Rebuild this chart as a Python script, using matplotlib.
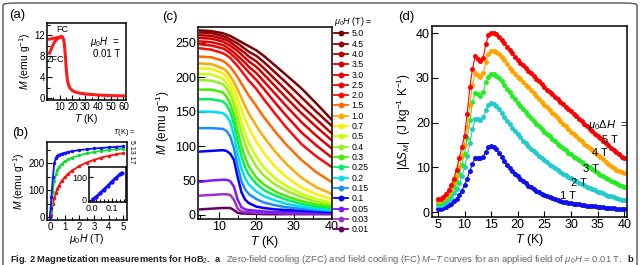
import numpy as np
import matplotlib
matplotlib.use('Agg')
import matplotlib.pyplot as plt
from matplotlib.patches import FancyBboxPatch
from matplotlib.lines import Line2D
from matplotlib.ticker import MultipleLocator

plt.rcParams['font.family'] = ['Liberation Sans', 'DejaVu Sans']
plt.rcParams['mathtext.fontset'] = 'custom'
plt.rcParams['mathtext.rm'] = 'Liberation Sans'
plt.rcParams['mathtext.it'] = 'Liberation Sans:italic'
plt.rcParams['mathtext.bf'] = 'Liberation Sans:bold'

# ---- (a) ZFC / FC, 0.01 T ----
a_T_zfc = [2, 3, 4, 5, 6, 7, 8, 9, 10, 11, 12]
a_M_zfc = [8.6, 9.2, 9.8, 10.3, 10.8, 11.1, 11.3, 11.5, 11.6, 11.7, 11.7]
a_T_fc = [2, 4, 6, 8, 10, 11, 12, 13, 13.5, 14, 14.5, 15, 15.5, 16, 17, 18, 20,
          22, 25, 30, 35, 40, 45, 50, 55, 60]
a_M_fc = [11.3, 11.4, 11.5, 11.6, 11.7, 11.8, 11.7, 11.3, 10.6, 9.4, 7.8, 6.0, 4.5,
          3.5, 2.4, 1.9, 1.4, 1.15, 0.95, 0.75, 0.65, 0.55, 0.5, 0.45, 0.42, 0.4]

# ---- (b) M-H ----
b_H = [0, 0.05, 0.1, 0.2, 0.3, 0.4, 0.5, 0.6, 0.8, 1.0, 1.25, 1.5, 2.0, 2.5, 3.0,
       3.5, 4.0, 4.5, 5.0]
b_M_5K = [0, 35, 75, 150, 200, 220, 228, 232, 236, 239, 242, 245, 249, 252, 255,
          257, 259, 261, 263]
b_M_13K = [0, 20, 45, 95, 135, 160, 175, 185, 198, 207, 215, 221, 230, 237, 242,
           246, 249, 252, 254]
b_M_17K = [0, 10, 22, 48, 70, 90, 105, 117, 135, 148, 162, 173, 190, 203, 213,
           221, 228, 233, 238]
b_inset_H = [0.005, 0.02, 0.04, 0.06, 0.08, 0.10, 0.12, 0.14, 0.15]
b_inset_M = [2, 12, 28, 45, 62, 80, 97, 112, 118]

# ---- (c) M-T at many fields ----
c_T = [5, 8, 11, 12, 13, 14, 15, 16, 17, 18, 20, 22, 25, 28, 32, 36, 40]
m_5p0 = [268, 267, 264, 262, 260, 257, 254, 251, 248, 245, 239, 231, 217, 203, 184, 162, 139]
m_4p5 = [265, 264, 260, 258, 255, 252, 249, 245, 241, 237, 231, 222, 207, 192, 171, 150, 130]
m_4p0 = [261, 260, 256, 254, 251, 247, 243, 239, 235, 230, 223, 213, 197, 181, 159, 139, 119]
m_3p5 = [257, 256, 252, 249, 246, 242, 238, 233, 228, 223, 215, 204, 187, 170, 148, 128, 109]
m_3p0 = [252, 251, 247, 244, 240, 236, 231, 226, 221, 215, 206, 194, 176, 158, 135, 115, 97]
m_2p5 = [248, 246, 242, 239, 235, 230, 225, 219, 213, 207, 196, 183, 163, 144, 120, 101, 84]
m_2p0 = [242, 240, 235, 232, 228, 222, 216, 209, 202, 195, 183, 168, 147, 127, 103, 85, 70]
m_1p5 = [230, 229, 224, 220, 215, 208, 200, 191, 182, 173, 158, 142, 121, 102, 80, 62, 48]
m_1p0 = [220, 219, 213, 209, 202, 193, 182, 170, 158, 147, 129, 113, 92, 74, 54, 40, 31]
m_0p7 = [213, 212, 206, 201, 193, 182, 168, 153, 139, 126, 106, 90, 70, 55, 40, 30, 23]
m_0p5 = [205, 204, 198, 192, 183, 170, 153, 135, 118, 104, 84, 69, 53, 42, 31, 23, 18]
m_0p4 = [196, 195, 190, 184, 175, 160, 140, 120, 103, 89, 70, 57, 44, 35, 26, 19, 15]
m_0p3 = [182, 182, 178, 172, 162, 145, 122, 100, 83, 70, 54, 44, 34, 27, 20, 15, 12]
m_0p25 = [168, 168, 165, 160, 150, 132, 107, 85, 69, 58, 45, 36, 28, 22, 16, 12, 10]
m_0p2 = [150, 150, 148, 144, 135, 116, 88, 67, 53, 44, 34, 27, 21, 16, 12, 9, 7]
m_0p15 = [126, 126, 125, 122, 114, 97, 70, 49, 37, 30, 23, 18, 14, 11, 9, 7, 6]
m_0p1 = [92, 93, 94, 93, 89, 80, 55, 33, 22, 17, 12, 10, 8, 7, 6, 5, 4]
m_0p05 = [48, 50, 51, 51, 49, 41, 22, 11, 8, 7, 6, 5, 4, 4, 3, 3, 3]
m_0p03 = [28, 29, 30, 30, 29, 22, 9, 5, 4, 4, 3, 3, 3, 2, 2, 2, 2]
m_0p01 = [8, 9, 10, 10, 10, 7, 3, 2, 2, 1.5, 1.5, 1, 1, 1, 1, 1, 1]
c_labels = ['5.0', '4.5', '4.0', '3.5', '3.0', '2.5', '2.0', '1.5', '1.0', '0.7',
            '0.5', '0.4', '0.3', '0.25', '0.2', '0.15', '0.1', '0.05', '0.03', '0.01']
c_colors = ['#7b0000', '#990000', '#b80000', '#d40000', '#e60000', '#f20000', '#ff0a0a',
            '#ff6a00', '#ffaa00', '#ffee00', '#ccff00', '#99ee22', '#44ee00', '#00ee66',
            '#00ddee', '#1a8cff', '#0000ff', '#7a1aff', '#9933cc', '#660066']
c_curves = [m_5p0, m_4p5, m_4p0, m_3p5, m_3p0, m_2p5, m_2p0, m_1p5, m_1p0, m_0p7,
            m_0p5, m_0p4, m_0p3, m_0p25, m_0p2, m_0p15, m_0p1, m_0p05, m_0p03, m_0p01]

# ---- (d) |dS_M| vs T ----
d_T = np.arange(5, 40.5, 0.5)
ds_5T = [3.0, 3.0, 3.3, 4.0, 5.0, 6.0, 7.5, 9.5, 12.0, 14.5,
         17.0, 22.0, 28.0, 32.0, 34.8, 34.2, 33.8, 34.5, 37.5, 39.5,
         40.0, 40.1, 39.7, 39.2, 38.5, 37.7, 37.0, 36.2, 35.5, 34.7,
         34.0, 33.4, 32.8, 32.2, 31.6, 31.0, 30.4, 29.8, 29.2, 28.6,
         28.0, 27.4, 26.9, 26.3, 25.8, 25.2, 24.6, 24.1, 23.5, 23.0,
         22.5, 21.9, 21.4, 20.8, 20.3, 19.7, 19.2, 18.6, 18.1, 17.5,
         17.0, 16.5, 16.0, 15.4, 14.9, 14.4, 13.9, 13.4, 12.9, 12.4,
         12.0]
ds_4T = [2.5, 2.6, 3.0, 3.5, 4.3, 5.2, 6.5, 8.0, 10.0, 12.5,
         15.0, 19.0, 24.0, 28.5, 31.0, 30.7, 30.3, 31.0, 33.5, 35.3,
         36.0, 36.1, 35.8, 35.3, 34.6, 33.9, 33.1, 32.3, 31.6, 30.9,
         30.3, 29.7, 29.1, 28.5, 27.9, 27.3, 26.7, 26.0, 25.3, 24.6,
         24.0, 23.4, 22.8, 22.2, 21.6, 21.0, 20.4, 19.8, 19.2, 18.6,
         18.0, 17.5, 16.9, 16.4, 15.9, 15.3, 14.8, 14.3, 13.8, 13.3,
         12.8, 12.3, 11.8, 11.3, 10.8, 10.3, 9.9, 9.5, 9.1, 8.9,
         8.7]
ds_3T = [2.0, 2.1, 2.5, 3.0, 3.7, 4.5, 5.5, 6.8, 8.5, 10.5,
         13.0, 16.5, 20.5, 24.5, 26.7, 26.4, 26.0, 26.8, 29.0, 30.3,
         30.8, 30.8, 30.4, 29.9, 29.2, 28.5, 27.6, 26.8, 26.0, 25.2,
         24.4, 23.7, 23.0, 22.3, 21.6, 21.0, 20.4, 19.8, 19.2, 18.6,
         18.0, 17.4, 16.9, 16.3, 15.8, 15.3, 14.8, 14.3, 13.8, 13.3,
         12.9, 12.4, 12.0, 11.6, 11.2, 10.8, 10.4, 10.0, 9.6, 9.2,
         8.8, 8.4, 8.1, 7.7, 7.3, 7.0, 6.7, 6.4, 6.1, 5.8,
         5.6]
ds_2T = [1.5, 1.6, 1.9, 2.3, 2.8, 3.4, 4.2, 5.2, 6.5, 8.0,
         10.0, 12.5, 15.5, 18.5, 20.8, 20.8, 20.6, 21.2, 22.8, 24.0,
         24.3, 24.2, 23.7, 23.0, 22.2, 21.3, 20.4, 19.6, 18.8, 18.1,
         17.4, 16.7, 16.0, 15.4, 14.8, 14.2, 13.7, 13.1, 12.6, 12.1,
         11.6, 11.1, 10.6, 10.2, 9.8, 9.4, 9.0, 8.6, 8.2, 7.9,
         7.6, 7.2, 6.9, 6.6, 6.3, 6.0, 5.7, 5.4, 5.1, 4.9,
         4.6, 4.4, 4.2, 3.9, 3.7, 3.5, 3.3, 3.1, 3.0, 2.8,
         2.7]
ds_1T = [0.8, 0.8, 0.9, 1.2, 1.5, 1.9, 2.4, 3.0, 3.8, 4.8,
         6.0, 7.5, 9.2, 10.8, 12.0, 12.1, 12.0, 12.4, 13.5, 14.5,
         14.8, 14.6, 14.0, 13.2, 12.3, 11.4, 10.6, 9.9, 9.2, 8.6,
         8.0, 7.4, 6.9, 6.4, 5.9, 5.5, 5.1, 4.7, 4.4, 4.1,
         3.8, 3.5, 3.3, 3.1, 2.9, 2.7, 2.5, 2.3, 2.2, 2.1,
         2.0, 1.9, 1.8, 1.7, 1.6, 1.5, 1.45, 1.4, 1.3, 1.25,
         1.2, 1.1, 1.05, 1.0, 0.95, 0.9, 0.85, 0.8, 0.8, 0.75,
         0.7]
d_series = [ds_1T, ds_2T, ds_3T, ds_4T, ds_5T]
d_colors = ['#1010ee', '#22cccc', '#22ee22', '#ffa500', '#ff0000']
d_labels = ['1 T', '2 T', '3 T', '4 T', '5 T']

W, H = 640, 265
fig = plt.figure(figsize=(6.4, 2.65), dpi=100)


def px_axes(l, t, r, b):
    return fig.add_axes([l / W, (H - b) / H, (r - l) / W, (b - t) / H])


def style(ax, fs, major=3.5, minor=2):
    ax.tick_params(which='both', direction='in', top=False, right=False,
                   labelsize=fs, width=0.8, pad=1.5)
    ax.tick_params(which='major', length=major)
    ax.tick_params(which='minor', length=minor)
    for s in ax.spines.values():
        s.set_linewidth(1.1)


# outer frame
fig.add_artist(FancyBboxPatch((3 / W, -0.2), (W - 6) / W, 1.2 - 3 / H,
                              boxstyle='round,pad=0,rounding_size=0.02',
                              transform=fig.transFigure, fc='none',
                              ec='#555555', lw=1.0, mutation_aspect=H / W))

# (a)
ax = px_axes(47, 23, 126, 100)
ax.plot(a_T_zfc, a_M_zfc, color='#ff1a1a', lw=2.2)
ax.plot(a_T_fc, a_M_fc, color='#ff1a1a', lw=2.2)
ax.set_xlim(0, 62)
ax.set_ylim(-0.4, 14.4)
ax.set_xticks([10, 20, 30, 40, 50, 60])
ax.set_yticks([0, 4, 8, 12])
ax.xaxis.set_minor_locator(MultipleLocator(5))
ax.yaxis.set_minor_locator(MultipleLocator(2))
style(ax, 7)
ax.set_xlabel('$T$ (K)', fontsize=7.5, labelpad=0)
ax.set_ylabel('$M$ (emu g$^{-1}$)', fontsize=7.5, labelpad=1)
ax.text(12, 13.1, 'FC', fontsize=6.5, ha='center', va='center')
ax.text(7, 7.3, 'ZFC', fontsize=6.5, ha='center', va='center')
ax.text(0.55, 0.75, r'$\mu_0H$  =', transform=ax.transAxes, fontsize=7, va='center')
ax.text(0.58, 0.60, '0.01 T', transform=ax.transAxes, fontsize=7, va='center')

# (b)
ax = px_axes(47, 142, 127, 220)
ax.plot(b_H, b_M_17K, color='#ff1010', lw=1.3, marker='o', ms=1.5)
ax.plot(b_H, b_M_13K, color='#10dd30', lw=1.3, marker='o', ms=1.5)
ax.plot(b_H, b_M_5K, color='#1010ff', lw=1.3, marker='o', ms=1.5)
ax.set_xlim(-0.2, 5.25)
ax.set_ylim(-10, 279)
ax.set_xticks([0, 1, 2, 3, 4, 5])
ax.set_yticks([0, 100, 200])
ax.xaxis.set_minor_locator(MultipleLocator(0.5))
ax.yaxis.set_minor_locator(MultipleLocator(50))
style(ax, 7)
ax.set_xlabel(r'$\mu_0H$ (T)', fontsize=7.5, labelpad=0)
ax.set_ylabel('$M$ (emu g$^{-1}$)', fontsize=7.5, labelpad=1)
fig.text(113 / W, 1 - 133 / H, '$T$(K) =', fontsize=5.5, va='center')
fig.text(132 / W, 1 - 139.5 / H, '5 13 17', fontsize=5.0, rotation=-90,
         ha='center', va='top')

ins = px_axes(89, 167, 126, 202)
ins.plot(b_inset_H, b_inset_M, color='#1010ff', lw=2.2, marker='o', ms=2)
ins.set_xlim(-0.015, 0.17)
ins.set_ylim(-10, 145)
ins.set_xticks([0.0, 0.1])
ins.set_xticklabels(['0.0', '0.1'])
ins.set_yticks([0, 100])
ins.xaxis.set_minor_locator(MultipleLocator(0.02))
style(ins, 6.5, major=3, minor=2)

# (c)
ax = px_axes(198, 27, 332, 219)
handles = []
for ys, col in zip(c_curves[::-1], c_colors[::-1]):
    ax.plot(c_T, ys, color=col, lw=1.8, solid_joinstyle='round')
for col, lab in zip(c_colors, c_labels):
    handles.append(Line2D([], [], color=col, lw=1.3, marker='o', ms=3.2, label=lab))
ax.set_xlim(4.4, 40.2)
ax.set_ylim(-6, 273)
ax.set_xticks([10, 20, 30, 40])
ax.set_yticks([0, 50, 100, 150, 200, 250])
ax.xaxis.set_minor_locator(MultipleLocator(5))
style(ax, 9, major=5, minor=3)
ax.set_xlabel('$T$ (K)', fontsize=9, labelpad=1)
ax.set_ylabel('$M$ (emu g$^{-1}$)', fontsize=8.5, labelpad=2)
leg = fig.legend(handles=handles, loc='upper left',
                 bbox_to_anchor=(334 / W, 1 - 15 / H), frameon=False,
                 fontsize=6.3, handlelength=1.6, handletextpad=0.4,
                 labelspacing=0.15, borderpad=0, borderaxespad=0,
                 title=r'$\mu_0H$ (T) =', title_fontsize=6.5)
leg._legend_box.align = 'left'

# (d)
ax = px_axes(432, 26, 627, 217)
for ys, col in zip(d_series, d_colors):
    ax.plot(d_T, ys, color=col, lw=0.8, marker='o', ms=3.6, mec='none')
ax.set_xlim(3.9, 40.5)
ax.set_ylim(-1.1, 41.6)
ax.set_xticks([5, 10, 15, 20, 25, 30, 35, 40])
ax.set_yticks([0, 10, 20, 30, 40])
style(ax, 9, major=4, minor=2)
ax.set_xlabel('$T$ (K)', fontsize=9, labelpad=1)
ax.set_ylabel(r'|$\Delta S_M$|  (J kg$^{-1}$ K$^{-1}$)', fontsize=8.5, labelpad=2)
ax.text(33.2, 19.5, r'$\mu_0\Delta H$  =', fontsize=8, va='center')
for lab, tx, ty in zip(d_labels, [29.4, 31.5, 33.7, 35.4, 37.2],
                       [3.5, 6.5, 9.6, 13.2, 16.1]):
    ax.text(tx, ty, lab, fontsize=8, ha='center', va='center')

# panel letters
for lab, x, y in [('(a)', 17, 15), ('(b)', 20, 133), ('(c)', 170, 17), ('(d)', 406, 17)]:
    fig.text(x / W, 1 - y / H, lab, fontsize=9.5, ha='center', va='center')

# caption (cut at the bottom edge)
r = fig.canvas.get_renderer()
t1 = fig.text(10 / W, 3 / H, 'Fig. 2 Magnetization measurements for HoB$_2$.  a',
              fontsize=6.7, fontweight='bold', va='baseline', color='#222222')
bb = t1.get_window_extent(r)
fig.text(bb.x1 / W + 4 / W, 3 / H,
         'Zero-field cooling (ZFC) and field cooling (FC) $M$–$T$ curves for an applied field of $\\mu_0H$ = 0.01 T.',
         fontsize=6.8, va='baseline', color='#666666')
fig.text(633 / W, 3 / H, 'b', fontsize=6.8, fontweight='bold', va='baseline',
         ha='right', color='#222222')

fig.savefig('out.png', dpi=100)
